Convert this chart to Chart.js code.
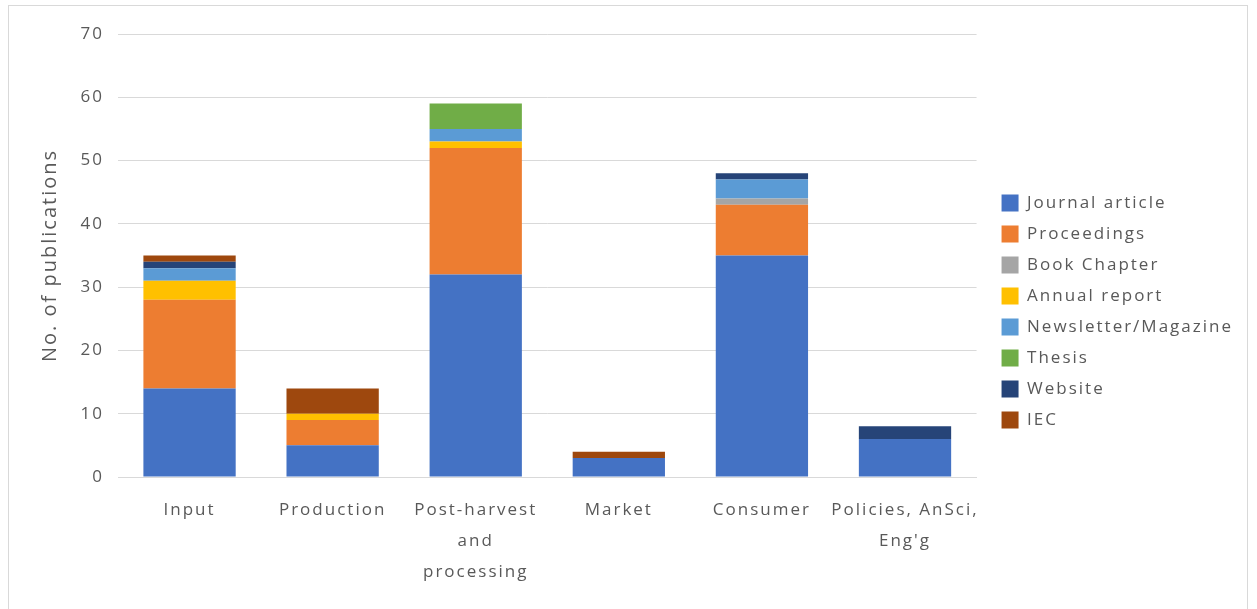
<!DOCTYPE html>
<html><head><meta charset="utf-8">
<script src="https://cdn.jsdelivr.net/npm/chart.js@4/dist/chart.umd.min.js"></script>
<style>
html,body{margin:0;padding:0;background:#fff;}
#wrap{position:relative;width:1257px;height:609px;}
#frame{position:absolute;left:8px;top:5px;width:1240px;height:610px;border:1px solid #d9d9d9;box-sizing:border-box;pointer-events:none;}
canvas{position:absolute;left:0;top:0;}
</style></head>
<body><div id="wrap"><canvas id="c" width="1257" height="609"></canvas><div id="frame"></div></div>
<script>
const categories = ["Input","Production",["Post-harvest","and","processing"],"Market","Consumer",["Policies, AnSci,","Eng'g"]];
const journalArticle = [14,5,32,3,35,6];
const proceedings    = [14,4,20,0,8,0];
const bookChapter    = [0,0,0,0,1,0];
const annualReport   = [3,1,1,0,0,0];
const newsletter     = [2,0,2,0,3,0];
const thesis         = [0,0,4,0,0,0];
const website        = [1,0,0,0,1,2];
const iec            = [1,4,0,1,0,0];
const yTicks = [0,10,20,30,40,50,60,70];

const series = [
  ["Journal article", journalArticle, "#4472C4"],
  ["Proceedings", proceedings, "#ED7D31"],
  ["Book Chapter", bookChapter, "#A5A5A5"],
  ["Annual report", annualReport, "#FFC000"],
  ["Newsletter/Magazine", newsletter, "#5B9BD5"],
  ["Thesis", thesis, "#70AD47"],
  ["Website", website, "#264478"],
  ["IEC", iec, "#9E480E"]
];
const txt = "#595959";
const fam = "'Open Sans', sans-serif";
const spacingPlugin = {
  id:'spacing',
  beforeUpdate(chart){ chart.ctx.letterSpacing = '2px'; },
  afterLayout(chart){
    if (chart.legend) { chart.legend.left += 11; chart.legend.top -= 10; chart.legend.bottom -= 10; }
  },
  beforeDraw(chart){ chart.ctx.letterSpacing = '2px'; }
};
new Chart(document.getElementById('c'), {
  type: 'bar',
  plugins:[spacingPlugin],
  data: {
    labels: categories,
    datasets: series.map(s => ({label:s[0], data:s[1], backgroundColor:s[2], borderWidth:0,
      categoryPercentage:1.0, barPercentage:0.645}))
  },
  options: {
    responsive:false, animation:false,
    layout:{padding:{left:38,top:34,right:25,bottom:0}},
    plugins:{
      tooltip:{enabled:false},
      legend:{position:'right', align:'center',
        labels:{boxWidth:17, boxHeight:17, padding:14, color:txt, font:{family:fam,size:17}}}
    },
    scales:{
      x:{stacked:true, grid:{display:false}, border:{display:true,color:'#d9d9d9'},
        ticks:{color:txt, font:{family:fam,size:17,lineHeight:1.85}, padding:9, maxRotation:0, autoSkip:false},
        afterFit(s){ s.height = 132; }},
      y:{stacked:true, min:0, max:70,
        afterBuildTicks(s){ s.ticks = yTicks.map(v=>({value:v})); },
        grid:{color:'#d9d9d9', drawTicks:false}, border:{display:false},
        ticks:{color:txt, font:{family:fam,size:17}, padding:14},
        title:{display:true, text:'No. of publications', color:txt, font:{family:fam,size:20}, padding:{top:0,bottom:4}},
        afterFit(s){ s.width = 80; }}
    }
  }
});
</script></body></html>
